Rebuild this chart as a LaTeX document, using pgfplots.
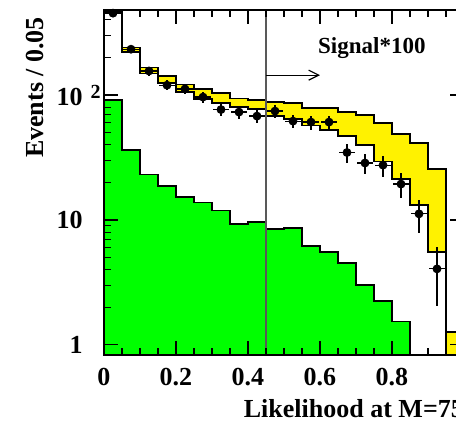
\documentclass[border=0pt]{standalone}
\usepackage{fontspec}
\setmainfont{Liberation Serif}
\usepackage{pgfplots}
\pgfplotsset{compat=1.18}
\usepackage{pgfplotstable}
\usetikzlibrary{arrows.meta}

% signal*100 stacked on background (upper edge), background (lower edge)
\pgfplotstableread{
x     up     lo
0.00  0.5    0.5
0.00  475    462
0.05  242    221
0.10  167.5  150
0.15  142    125
0.20  122    106
0.25  112    93
0.30  104    86.3
0.35  94.6   80.2
0.40  91.2   77.3
0.45  87.9   67.9
0.50  86.3   64.3
0.55  78.7   57.5
0.60  78.7   52.5
0.65  73.1   47.0
0.70  69.2   39.8
0.75  59.7   29.6
0.80  48.8   21.3
0.85  41.3   13.2
0.90  25.6   5.55
0.95  1.27   0.5
1.00  1.27   0.5
1.00  0.5    0.5
}\stack

\pgfplotstableread{
x     y
0.00  0.5
0.00  91.2
0.05  36.3
0.10  23.3
0.15  18.7
0.20  15.3
0.25  13.9
0.30  12.0
0.35  9.29
0.40  9.64
0.45  8.47
0.50  8.63
0.55  6.19
0.60  5.55
0.65  4.53
0.70  3.02
0.75  2.25
0.80  1.53
0.85  1.53
0.85  0.5
}\green

\pgfplotstableread{
x      y     ey
0.025  453   21.3
0.075  233   15.3
0.125  156   12.5
0.175  120   11.0
0.225  112   10.6
0.275  96.4  9.8
0.325  76.6  8.75
0.375  73.1  8.55
0.425  67.9  8.24
0.475  74.5  8.63
0.525  61.9  7.87
0.575  60.8  7.80
0.625  60.8  7.80
0.675  34.7  5.89
0.725  28.6  5.35
0.775  27.5  5.24
0.825  19.4  4.40
0.875  11.2  3.35
0.925  4.06  2.01
}\data

\begin{document}
\begin{tikzpicture}
\path[use as bounding box] (0,0) rectangle (228pt,210pt);
\clip (0,0) rectangle (228pt,210pt);
\begin{axis}[
    at={(52pt,32.5pt)}, anchor=south west,
    scale only axis, width=180pt, height=172.5pt,
    xmin=0, xmax=1, ymode=log, ymin=0.83, ymax=480,
    axis on top,
    axis line style={line width=0.6pt},
    tick align=inside,
    tick style={black, line width=0.6pt},
    major tick length=7pt, minor tick length=3.7pt,
    xtick={0,0.2,0.4,0.6,0.8},
    minor xtick={0.05,0.1,0.15,0.25,0.3,0.35,0.45,0.5,0.55,0.65,0.7,0.75,0.85,0.9,0.95},
    ytick={1,10,100},
    yticklabels={1,10,{10\rlap{\hspace{4pt}\raisebox{3.5pt}{\fontsize{10}{10}\selectfont 2}}}},
    minor ytick={2,3,4,5,6,7,8,9,20,30,40,50,60,70,80,90,200,300,400},
    /pgf/number format/assume math mode=true,
    ticklabel style={font=\fontsize{13}{15}\selectfont\bfseries},
    xticklabel style={anchor=base, inner sep=0pt, yshift=-15pt},
    yticklabel style={anchor=east, inner sep=0pt, xshift=-10.5pt},
    ylabel={Events / 0.05},
    ylabel style={at={(rel axis cs:-0.192,1)}, anchor=east,
      font=\fontsize{13}{15}\selectfont\bfseries},
    xlabel={Likelihood at M=75 GeV},
    xlabel style={at={(rel axis cs:0.369,0)}, anchor=base west, yshift=-31pt,
      font=\fontsize{13}{15}\selectfont\bfseries},
  ]
  \addplot[const plot, fill=yellow, draw=black, line width=0.6pt] table[x=x, y=up] {\stack};
  \addplot[const plot, fill=white, draw=black, line width=0.6pt] table[x=x, y=lo] {\stack};
  \addplot[const plot, fill=green, draw=black, line width=0.6pt] table[x=x, y=y] {\green};
  \addplot[gray!70!black, line width=0.6pt] coordinates {(0.45,0.83) (0.45,480)};
  \addplot[only marks, mark=*, mark size=2pt, black,
    error bars/.cd, y dir=both, y explicit, x dir=both, x fixed=0.022,
    error mark=none, error bar style={line width=0.6pt}]
    table[x=x, y=y, y error=ey] {\data};
  \draw[-{Straight Barb[length=5pt, width=5pt]}, line width=0.6pt]
    (axis cs:0.45,144.5) -- (axis cs:0.6,144.5);
  \node[font=\fontsize{11.5}{13}\selectfont\bfseries] at (axis cs:0.744,238) {Signal*100};
\end{axis}
\end{tikzpicture}
\end{document}
